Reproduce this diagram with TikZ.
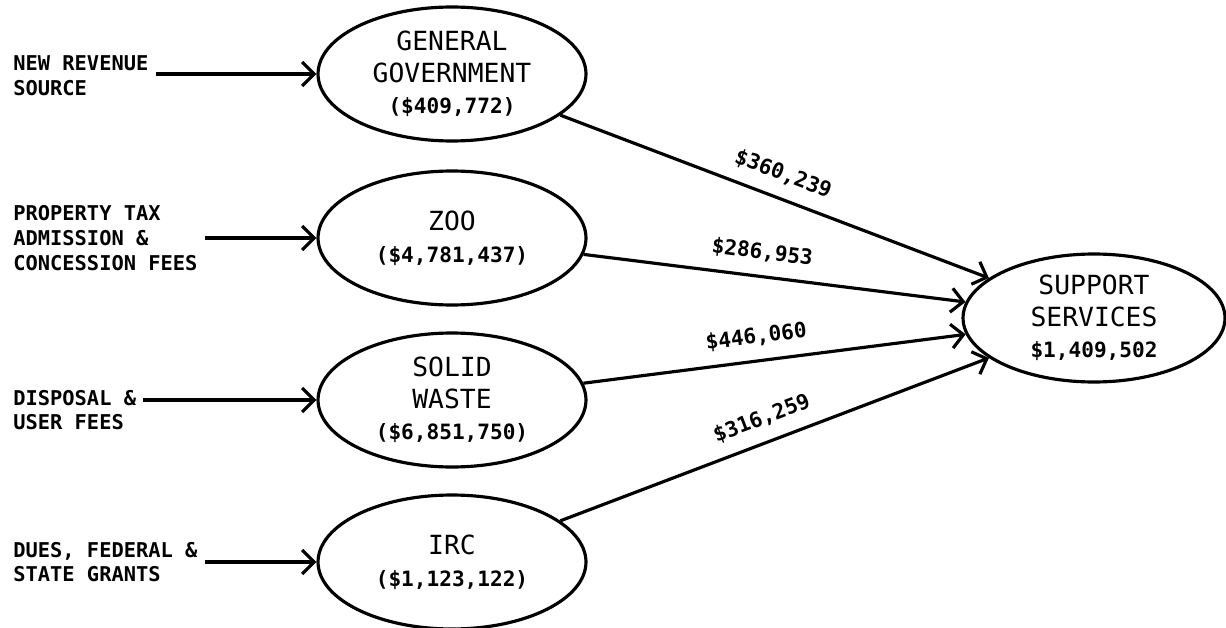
\documentclass[tikz,border=0pt]{standalone}
\usepackage{fontspec}
\usepackage{tikz}
\usetikzlibrary{arrows.meta, shapes.geometric}
\newfontfamily\dmono{DejaVu Sans Mono}

\begin{document}
\begin{tikzpicture}[
        x=0.02cm, y=-0.02cm,
        >={Straight Barb[length=2.4mm, width=4.8mm]},
        fund/.style={
            ellipse,
            draw,
            line width=1.8pt,
            minimum width=5.36cm,
            minimum height=2.68cm,
            inner sep=0pt,
            align=center,
            font=\dmono\fontsize{15}{18}\selectfont
        },
        source/.style={
            anchor=west,
            align=left,
            inner sep=4pt,
            font=\dmono\bfseries\fontsize{11.6}{14}\selectfont
        },
        amount/.style={
            sloped,
            above=4pt,
            font=\dmono\bfseries\fontsize{12}{14}\selectfont
        },
        flow/.style={->, line width=1.8pt}
    ]
    \useasboundingbox (0,0) rectangle (1226,628);

    % Nodes
    \node[fund] (general government) at (452,74) {GENERAL\\GOVERNMENT\\{\bfseries\fontsize{12}{14}\selectfont(\$409,772)}};
    \node[fund] (zoo) at (452,238) {ZOO\\{\bfseries\fontsize{12}{14}\selectfont(\$4,781,437)}};
    \node[fund] (solid waste) at (452,400) {SOLID\\WASTE\\{\bfseries\fontsize{12}{14}\selectfont(\$6,851,750)}};
    \node[fund] (irc) at (452,562) {IRC\\{\bfseries\fontsize{12}{14}\selectfont(\$1,123,122)}};
    \node[fund, minimum width=5.24cm, minimum height=2.56cm] (support services) at (1094,318) {SUPPORT\\SERVICES\\{\bfseries\fontsize{12}{14}\selectfont\$1,409,502}};

    \node[source] (new revenue) at (6,76) {NEW REVENUE\\SOURCE};
    \node[source] (property tax) at (6,238) {PROPERTY TAX\\ADMISSION \&\\CONCESSION FEES};
    \node[source] (disposal) at (6,410) {DISPOSAL \&\\USER FEES};
    \node[source] (dues) at (6,562) {DUES, FEDERAL \&\\STATE GRANTS};

    % Arrows
    \draw[flow] (new revenue.east |- general government.west) -- (general government.west);
    \draw[flow] (property tax.east |- zoo.west) -- (zoo.west);
    \draw[flow] (disposal.east |- solid waste.west) -- (solid waste.west);
    \draw[flow] (dues.east |- irc.west) -- (irc.west);

    \draw[flow] (general government) -- node[amount, pos=0.5] {\$360,239} (support services);
    \draw[flow] (zoo) -- node[amount, pos=0.46] {\$286,953} (support services);
    \draw[flow] (solid waste) -- node[amount, pos=0.46] {\$446,060} (support services);
    \draw[flow] (irc) -- node[amount, pos=0.49] {\$316,259} (support services);

    \end{tikzpicture}
\end{document}
